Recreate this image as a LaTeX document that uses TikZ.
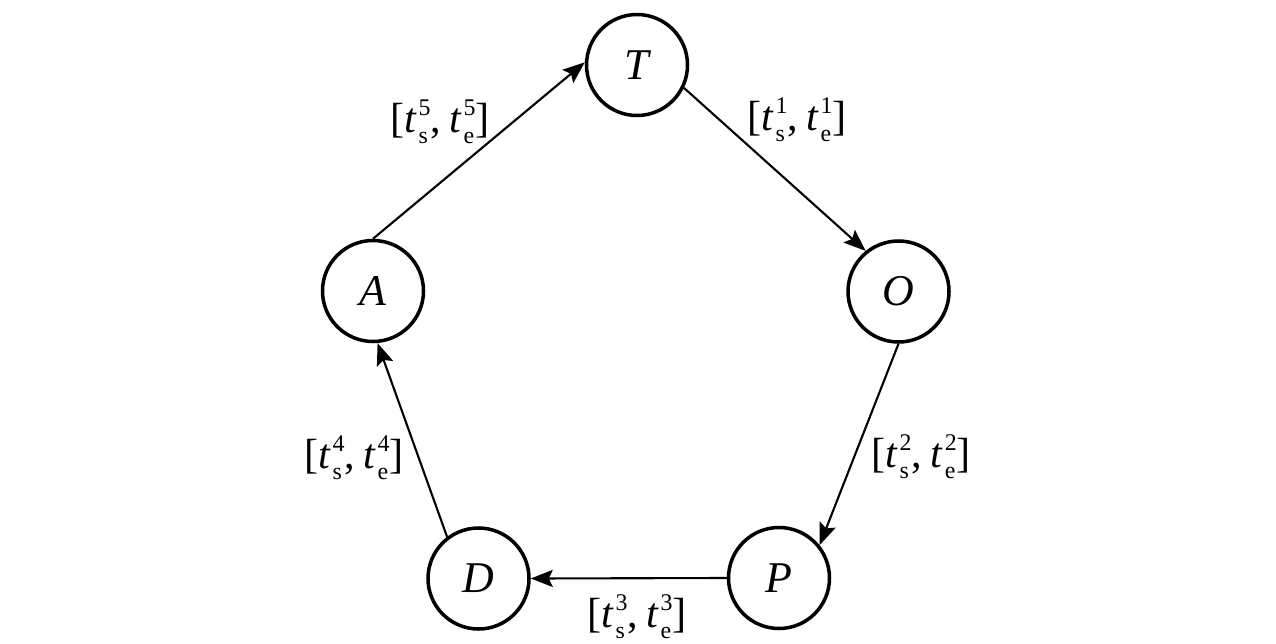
\documentclass[tikz,border=0pt]{standalone}
\usepackage{fontspec}
\setmainfont{Liberation Serif}
\usetikzlibrary{arrows.meta}

\newcommand{\scr}[1]{{\fontsize{6.8}{7}\selectfont #1}}
\newcommand{\tsup}[2]{\textit{t}\kern0.04em\rlap{\raisebox{-0.26em}{\scr{#2}}}\raisebox{0.4em}{\scr{#1}}}
\newcommand{\tint}[1]{[\tsup{#1}{s},\hspace{0.2em}\tsup{#1}{e}]}

\tikzset{
	state/.style={circle, draw, line width=1pt, minimum size=1.01cm, inner sep=0pt, font=\fontsize{12.5}{14}\selectfont\itshape},
	trans/.style={line width=0.6pt, -{Stealth[length=2.2mm, width=1.7mm, inset=0.4mm]}},
	interval/.style={font=\fontsize{12}{14}\selectfont, inner sep=0pt}
}

\begin{document}
\begin{tikzpicture}
		\useasboundingbox (0, 0) rectangle (12.76, 6.43);

		\node[state] (T) at (6.37, 5.78) {T};
		\node[state] (O) at (8.985, 3.515) {O};
		\node[state] (P) at (7.79, 0.65) {P};
		\node[state] (D) at (4.785, 0.645) {D};
		\node[state] (A) at (3.73, 3.52) {A};

		\node[interval] (int1) at (7.97, 5.23) {\tint{1}};
		\node[interval] (int2) at (9.21, 1.86) {\tint{2}};
		\node[interval] (int3) at (6.37, 0.26) {\tint{3}};
		\node[interval] (int4) at (3.54, 1.85) {\tint{4}};
		\node[interval] (int5) at (4.40, 5.21) {\tint{5}};

		\path (T.-26) edge[trans] (O.129);
		\path (O.south) edge[trans] (P.39);
		\path (P.west) edge[trans] (D.east);
		\path (D.127) edge[trans] (A.-85);
		\path (A.north) edge[trans] (T.177);
	\end{tikzpicture}
\end{document}
